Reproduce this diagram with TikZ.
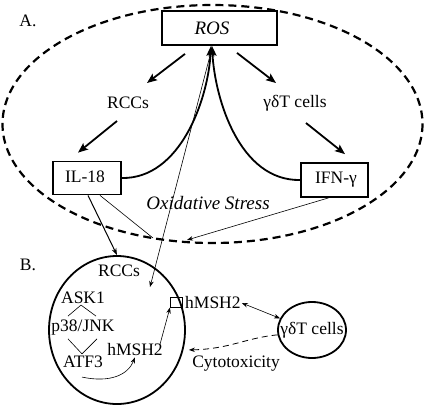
\documentclass[tikz,border=0pt]{standalone}
\usepackage{fontspec}
\setmainfont{Liberation Serif}
\usetikzlibrary{arrows.meta,shapes.geometric}
\begin{document}
\begin{tikzpicture}[x=1bp,y=-1bp,
  font=\fontsize{17.5bp}{20bp}\selectfont,
  txt/.style={inner sep=1bp},
  boxnode/.style={draw, line width=1.8bp, inner sep=0},
  cellnode/.style={draw, ellipse, line width=1.8bp, inner sep=0},
  bigarrow/.style={-{Stealth[length=10bp,width=8bp,inset=2bp]}, line width=1.8bp},
  thinarrow/.style={-{Stealth[length=6bp,width=4.5bp]}, line width=0.6bp},
  midarrow/.style={-{Stealth[length=7bp,width=5bp]}, line width=1bp},
  dashline/.style={line width=2.2bp, dash pattern=on 8bp off 5bp}]
\useasboundingbox (0,0) rectangle (425,406);

% Part A
\draw[dashline] (212.5,124) ellipse [x radius=210, y radius=119];
\node[txt] (lblA) at (28,21) {A.};
\node[boxnode, minimum width=115bp, minimum height=34bp] (ros) at (219.5,28) {};
\node[txt, font=\fontsize{19bp}{22bp}\selectfont] (rostxt) at (212,28) {\textit{ROS}};
\node[txt] (rccA) at (128,103) {RCCs};
\node[txt] (gdA) at (295,103) {γδT cells};
\node[boxnode, minimum width=68bp, minimum height=33bp] (il18) at (87,178) {};
\node[txt] (il18txt) at (85,177) {IL-18};
\node[boxnode, minimum width=67bp, minimum height=34bp] (ifn) at (334.5,180) {};
\node[txt] (ifntxt) at (336,180) {IFN-γ};
\node[txt, font=\fontsize{19bp}{22bp}\selectfont] (ox) at (208,203) {\textit{Oxidative Stress}};

\draw[bigarrow] ([shift={(-34.5,8)}]ros.south) -- ([shift={(19,-20)}]rccA.center);
\draw[bigarrow] ([shift={(17.5,7)}]ros.south) -- ([shift={(-19,-20)}]gdA.center);
\draw[bigarrow] ([shift={(-11,18)}]rccA.center) -- ([shift={(-9,-8)}]il18.north);
\draw[bigarrow] ([shift={(11,20)}]gdA.center) -- ([shift={(10.5,-8)}]ifn.north);

\draw[bigarrow] (il18.east) .. controls (180,179) and (208,100) .. ([shift={(-8.5,0)}]ros.south);
\draw[bigarrow] (ifn.west) .. controls (240,181) and (215,100) .. ([shift={(-7.5,0)}]ros.south);

% Part B
\node[txt] (lblB) at (28,265) {B.};
\node[cellnode, minimum width=136bp, minimum height=148bp] (rcc) at (117,330) {};
\node[txt] (rccB) at (119,271) {RCCs};
\node[txt] (ask) at (83,298) {ASK1};
\node[txt] (p38) at (83,328) {p38/JNK};
\node[txt] (atf) at (83,362) {ATF3};
\node[txt] (hin) at (135,350) {hMSH2};
\node[draw, line width=1bp, inner sep=0, minimum width=12bp, minimum height=10bp] (sq) at (176.5,302) {};
\node[txt, anchor=west] (hout) at (184,303) {hMSH2};
\node[cellnode, minimum width=68bp, minimum height=56bp] (gd) at (312,330) {};
\node[txt] (gdB) at (312,330) {γδT cells};
\node[txt] (cyto) at (236,364) {Cytotoxicity};

\coordinate (os1) at (153,238);
\coordinate (os2) at (187,240);
\coordinate (rosend) at (150,287);

\draw[thinarrow] ([shift={(-7.5,2)}]ros.south) -- (rosend);
\draw[midarrow] ([shift={(1,0)}]il18.south) -- (rcc.north);
\draw[line width=0.6bp] ([shift={(13,0)}]il18.south) -- (os1);
\draw[thinarrow] ([shift={(-6,0)}]ifn.south) -- (os2);

\draw[line width=0.6bp] ([shift={(-2,0)}]ask.south) -- ([shift={(-15,11)}]ask.south);
\draw[line width=0.6bp] ([shift={(-2,0)}]ask.south) -- ([shift={(13,11)}]ask.south);
\draw[line width=0.6bp] ([shift={(-15,2)}]p38.south) -- ([shift={(-1,17)}]p38.south);
\draw[line width=0.6bp] ([shift={(14,2)}]p38.south) -- ([shift={(-1,17)}]p38.south);

\draw[thinarrow] ([shift={(-1,8)}]atf.south) .. controls (110,383) and (128,375) .. (hin.south);
\draw[thinarrow] ([shift={(-4,2)}]hin.north east) -- (sq.south west);
\draw[{Stealth[length=6bp,width=4.5bp]}-{Stealth[length=6bp,width=4.5bp]}, line width=0.6bp] (hout.east) -- (gd.160);
\draw[thinarrow, dashed, dash pattern=on 6bp off 4bp, line width=0.8bp] (gd.188) .. controls (245,338) and (230,349) .. ([shift={(5,2)}]rcc.-15);
\end{tikzpicture}
\end{document}
